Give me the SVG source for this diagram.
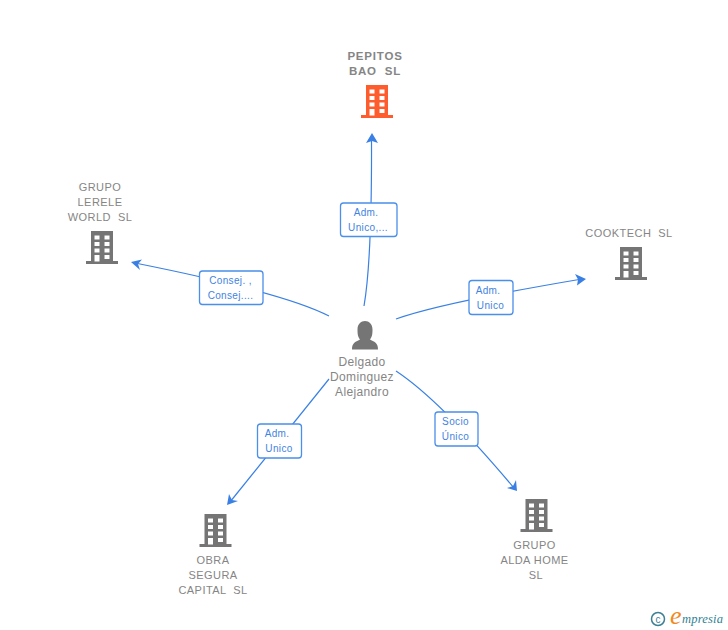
<svg xmlns="http://www.w3.org/2000/svg" width="728" height="630" viewBox="0 0 728 630">
<style>
text{font-family:"Liberation Sans",Arial,sans-serif;white-space:pre}
.n{font-size:11px;fill:#858585;text-anchor:middle;letter-spacing:.45px}
.b{font-weight:bold;font-size:11.5px;letter-spacing:.8px}
.p{font-size:12px;fill:#858585;text-anchor:middle;letter-spacing:.35px}
.l{font-size:10px;fill:#3f83e2;text-anchor:middle;letter-spacing:.35px}
.c{fill:none;stroke:#3a80e4;stroke-width:1.2}
.a{fill:#3a80e4}
.box{fill:#fff;stroke:#4a8fea;stroke-width:1.3}
</style>
<defs>
<path id="bld" fill-rule="evenodd" d="M-11 0H11V30H16V33H-16V30H-11ZM-7.500 4.500V8.500H-2.500V4.500ZM2.500 4.500V8.500H7.500V4.500ZM-7.500 11V15H-2.500V11ZM2.500 11V15H7.500V11ZM-7.500 17.500V21.500H-2.500V17.500ZM2.500 17.500V21.500H7.500V17.500ZM-7.500 24V30.500H-2.500V24ZM2.500 24V28H7.500V24Z"/>
</defs>
<rect width="728" height="630" fill="#fff"/>
<g id="connectors">
<path class="c" d="M364 306Q372 260 371.500 138"/><path class="a" d="M372 133L378 143L372 141L366 143Z"/>
<path class="c" d="M329 316Q285 293 135 263"/><path class="a" d="M131 262L142 259.500L138 264L140 270Z"/>
<path class="c" d="M396 319Q440 303 582 279"/><path class="a" d="M586 279L575 274L578 279.500L577 285.500Z"/>
<path class="c" d="M329 379L230 502"/><path class="a" d="M227 505L229 494L232 500L238 501Z"/>
<path class="c" d="M396 371Q440 400 514 488"/><path class="a" d="M517 491L507 488L513 486L516 480Z"/>
</g>
<g id="n-pepitos"><text class="n b" x="375" y="60">PEPITOS</text><text class="n b" x="375" y="75">BAO  SL</text><use href="#bld" x="377" y="85" fill="#ff5c2e"/></g>
<g id="n-lerele"><text class="n" x="100" y="191">GRUPO</text><text class="n" x="100" y="206">LERELE</text><text class="n" x="100" y="221">WORLD  SL</text><use href="#bld" x="102" y="231" fill="#757575"/></g>
<g id="n-cooktech"><text class="n" x="629" y="237">COOKTECH  SL</text><use href="#bld" x="631" y="247" fill="#757575"/></g>
<g id="n-obra"><text class="n" x="213" y="564">OBRA</text><text class="n" x="213" y="579">SEGURA</text><text class="n" x="213" y="594">CAPITAL  SL</text><use href="#bld" x="215.500" y="514" fill="#757575"/></g>
<g id="n-alda"><text class="n" x="534.500" y="549">GRUPO</text><text class="n" x="534.500" y="564">ALDA HOME</text><text class="n" x="536" y="579">SL</text><use href="#bld" x="536.500" y="499" fill="#757575"/></g>
<g id="n-delgado">
<path fill="#757575" d="M352 349.500C352 343 355 342 360 339.500C358 337 357.500 334.500 357.500 329.500C357.500 324 361 321 365 321C369 321 372.500 324 372.500 329.500C372.500 334.500 372 337 370 339.500C375 342 378 343 378 349.500Z"/>
<text class="p" x="362" y="366">Delgado</text><text class="p" x="362" y="381">Dominguez</text><text class="p" x="362" y="396">Alejandro</text></g>
<g id="l-pepitos"><rect class="box" x="340.500" y="203" width="56.500" height="33.500" rx="3"/><text class="l" x="366" y="216">Adm.</text><text class="l" x="368" y="231">Unico,...</text></g>
<g id="l-lerele"><rect class="box" x="199.500" y="271" width="63.500" height="33.500" rx="3"/><text class="l" x="230.500" y="284">Consej. ,</text><text class="l" x="230.500" y="299">Consej....</text></g>
<g id="l-cooktech"><rect class="box" x="469" y="280.500" width="44" height="34" rx="3"/><text class="l" x="488" y="294">Adm.</text><text class="l" x="490.500" y="309">Unico</text></g>
<g id="l-obra"><rect class="box" x="257.500" y="424" width="44" height="34" rx="3"/><text class="l" x="277" y="437">Adm.</text><text class="l" x="279" y="452">Unico</text></g>
<g id="l-alda"><rect class="box" x="435" y="412" width="43" height="34" rx="3"/><text class="l" x="455.500" y="425">Socio</text><text class="l" x="455.500" y="440">Único</text></g>
<g id="logo"><circle cx="658" cy="619" r="6.500" fill="none" stroke="#3d7f94" stroke-width="1.500"/><text x="658" y="622.500" font-size="10" fill="#3d7f94" text-anchor="middle">c</text>
<text x="670" y="624" style="font-family:'Liberation Serif',serif;font-style:italic" font-size="26" fill="#f08a1d">e</text>
<text x="682" y="623" style="font-family:'Liberation Serif',serif;font-style:italic" font-size="12.500" fill="#2f7f92" letter-spacing=".2">mpresia</text></g>
</svg>
